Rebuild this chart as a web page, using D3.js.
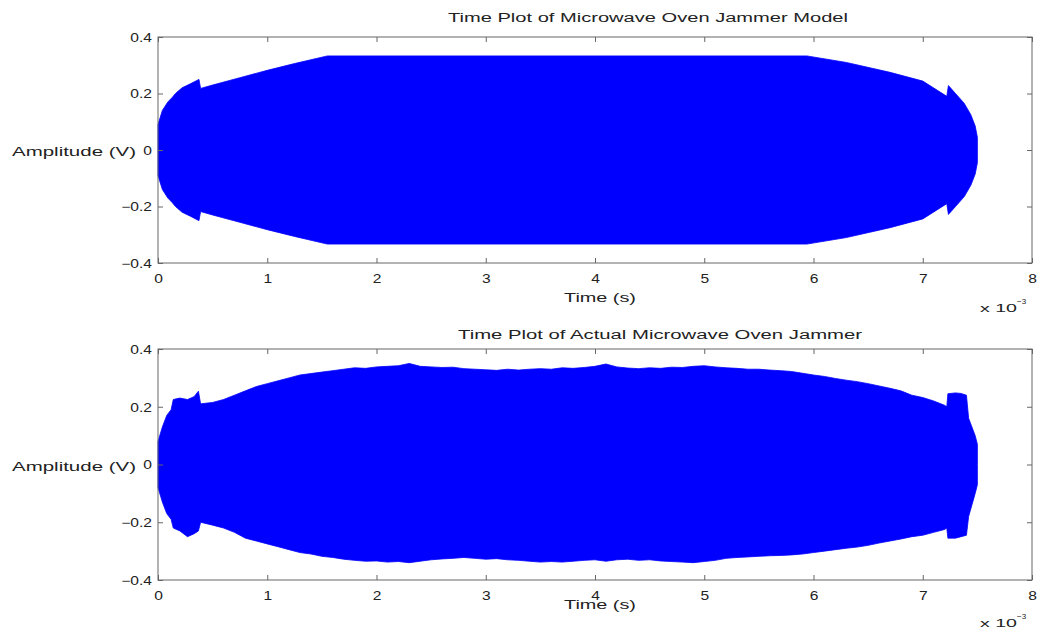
<!DOCTYPE html>
<html>
<head>
<meta charset="utf-8">
<script src="https://cdn.jsdelivr.net/npm/d3@7"></script>
<style>
body { margin: 0; background: #fff; }
text { font-family: "Liberation Sans", Arial, sans-serif; fill: #222; }
</style>
</head>
<body>
<svg id="chart" width="1044" height="639"></svg>
<script>
// tick values and labels
var xTicks = [0, 1, 2, 3, 4, 5, 6, 7, 8];
var yTicks = [-0.4, -0.2, 0, 0.2, 0.4];
var yTickLabels = ["\u22120.4", "\u22120.2", "0", "0.2", "0.4"];

// model jammer: symmetric envelope of the carrier (time in ms, amplitude in V)
var modelTime = [0, 0.04, 0.09, 0.13, 0.16, 0.22, 0.3, 0.375, 0.39, 0.5, 0.75, 1.0, 1.25, 1.55,
    5.94, 6.3, 6.7, 7.0, 7.22, 7.235, 7.3, 7.38, 7.44, 7.48, 7.5, 7.5];
var modelAmp = [0.09, 0.14, 0.17, 0.186, 0.2, 0.22, 0.235, 0.25, 0.218, 0.23, 0.256, 0.282, 0.306, 0.333,
    0.333, 0.31, 0.275, 0.244, 0.19, 0.228, 0.2, 0.165, 0.125, 0.085, 0.045, 0];

// measured jammer: upper and lower envelope
var actualTime = [0, 0.04, 0.08, 0.12, 0.14, 0.2, 0.27, 0.33, 0.37, 0.39,
    0.5, 0.6, 0.7, 0.8, 0.9, 1.0, 1.1, 1.2, 1.3, 1.4, 1.5, 1.6, 1.7, 1.8, 1.9,
    2.0, 2.1, 2.2, 2.3, 2.4, 2.5, 2.6, 2.7, 2.8, 2.9, 3.0, 3.1, 3.2, 3.3, 3.4,
    3.5, 3.6, 3.7, 3.8, 3.9, 4.0, 4.1, 4.2, 4.3, 4.4, 4.5, 4.6, 4.7, 4.8, 4.9,
    5.0, 5.1, 5.2, 5.3, 5.4, 5.5, 5.6, 5.7, 5.8, 5.9, 6.0, 6.1, 6.2, 6.3, 6.4,
    6.5, 6.6, 6.7, 6.8, 6.9, 7.0, 7.1, 7.2,
    7.22, 7.23, 7.3, 7.35, 7.4, 7.42, 7.45, 7.48, 7.5, 7.5];
var actualUpper = [0.08, 0.13, 0.17, 0.19, 0.225, 0.23, 0.225, 0.235, 0.254, 0.21,
    0.215, 0.225, 0.24, 0.255, 0.27, 0.28, 0.29, 0.3, 0.31, 0.315, 0.32, 0.325, 0.33, 0.335, 0.333,
    0.338, 0.34, 0.342, 0.35, 0.34, 0.338, 0.336, 0.337, 0.332, 0.33, 0.328, 0.326, 0.33, 0.327, 0.33,
    0.332, 0.33, 0.335, 0.333, 0.336, 0.34, 0.348, 0.338, 0.334, 0.332, 0.335, 0.333, 0.337, 0.336, 0.34,
    0.342, 0.338, 0.335, 0.333, 0.33, 0.33, 0.327, 0.325, 0.322, 0.316, 0.31, 0.305, 0.298, 0.292, 0.287,
    0.28, 0.272, 0.264, 0.255, 0.24, 0.232, 0.22, 0.205,
    0.2, 0.245, 0.248, 0.246, 0.24, 0.16, 0.13, 0.1, 0.07, 0];
var actualLower = [-0.08, -0.13, -0.17, -0.19, -0.22, -0.23, -0.25, -0.24, -0.23, -0.2,
    -0.21, -0.22, -0.235, -0.255, -0.265, -0.275, -0.285, -0.295, -0.305, -0.31, -0.318, -0.322, -0.328, -0.332, -0.335,
    -0.334, -0.338, -0.336, -0.34, -0.335, -0.33, -0.327, -0.325, -0.322, -0.325, -0.328, -0.326, -0.33, -0.332, -0.335,
    -0.338, -0.336, -0.338, -0.335, -0.332, -0.33, -0.335, -0.33, -0.328, -0.332, -0.33, -0.334, -0.336, -0.338, -0.34,
    -0.336, -0.332, -0.325, -0.322, -0.32, -0.318, -0.316, -0.315, -0.313, -0.31, -0.305, -0.3, -0.295, -0.29, -0.286,
    -0.28, -0.272, -0.265, -0.258, -0.25, -0.245, -0.235, -0.225,
    -0.22, -0.255, -0.255, -0.25, -0.245, -0.18, -0.14, -0.1, -0.07, 0];

var svg = d3.select("#chart");
var left = 158, right = 1032;
var blue = "#0000ff";

var panels = [
    {
        top: 37, bottom: 263,
        title: "Time Plot of Microwave Oven Jammer Model", titleX: 648, titleY: 22, titleW: 400,
        xlabelDy: 39, expDy: 49,
        upper: modelTime.map(function(t, i) { return [t, modelAmp[i]]; }),
        lower: modelTime.map(function(t, i) { return [t, -modelAmp[i]]; })
    },
    {
        top: 349, bottom: 580,
        title: "Time Plot of Actual Microwave Oven Jammer", titleX: 660, titleY: 339, titleW: 404,
        xlabelDy: 29, expDy: 47,
        upper: actualTime.map(function(t, i) { return [t, actualUpper[i]]; }),
        lower: actualTime.map(function(t, i) { return [t, actualLower[i]]; })
    }
];

var sx = 1.3; // the original picture is stretched sideways

panels.forEach(function(p, k) {
    var x = d3.scaleLinear().domain([0, 8]).range([left, right]);
    var y = d3.scaleLinear().domain([-0.4, 0.4]).range([p.bottom, p.top]);
    var g = svg.append("g");

    // signal: filled between upper and lower envelope
    var area = d3.area()
        .x(function(d) { return x(d[0]); })
        .y0(function(d, i) { return y(p.lower[i][1]); })
        .y1(function(d) { return y(d[1]); });
    g.append("path")
        .datum(p.upper)
        .attr("d", area)
        .attr("fill", blue)
        .attr("stroke", blue)
        .attr("stroke-width", 0.8);

    // box
    g.append("rect")
        .attr("x", left).attr("y", p.top)
        .attr("width", right - left).attr("height", p.bottom - p.top)
        .attr("fill", "none").attr("stroke", "#666").attr("stroke-width", 1);

    var xb = g.append("g").attr("transform", "translate(0," + p.bottom + ")")
        .call(d3.axisBottom(x).tickValues(xTicks).tickSize(-5).tickPadding(10).tickFormat(d3.format("d")));
    g.append("g").attr("transform", "translate(0," + p.top + ")")
        .call(d3.axisTop(x).tickValues(xTicks).tickSize(-5).tickFormat(""));
    var yl = g.append("g").attr("transform", "translate(" + left + ",0)")
        .call(d3.axisLeft(y).tickValues(yTicks).tickSize(-5).tickPadding(6)
            .tickFormat(function(d, i) { return yTickLabels[i]; }));
    g.append("g").attr("transform", "translate(" + right + ",0)")
        .call(d3.axisRight(y).tickValues(yTicks).tickSize(-5).tickFormat(""));

    g.selectAll(".domain").remove();
    g.selectAll(".tick line").attr("stroke", "#666");
    g.selectAll(".tick text")
        .attr("font-size", 12)
        .attr("fill", "#222")
        .attr("font-family", "Liberation Sans, Arial, sans-serif")
        .each(function() {
            var t = d3.select(this);
            t.attr("x", (+t.attr("x") || 0) / sx).attr("transform", "scale(" + sx + ",1)");
        });
    xb.selectAll(".tick text").attr("dy", "0.71em").attr("y", 11);
    yl.selectAll(".tick text").attr("dy", "0.36em");

    // title
    g.append("text")
        .attr("x", p.titleX).attr("y", p.titleY)
        .attr("text-anchor", "middle")
        .attr("font-size", 12.5)
        .attr("textLength", p.titleW).attr("lengthAdjust", "spacingAndGlyphs")
        .text(p.title);

    // x label
    g.append("text")
        .attr("x", 600).attr("y", p.bottom + p.xlabelDy)
        .attr("text-anchor", "middle")
        .attr("font-size", 12.5)
        .attr("textLength", 72).attr("lengthAdjust", "spacingAndGlyphs")
        .text("Time (s)");

    // y label, horizontal next to zero tick
    g.append("text")
        .attr("x", 12).attr("y", y(0) + 6)
        .attr("font-size", 13)
        .attr("textLength", 124).attr("lengthAdjust", "spacingAndGlyphs")
        .text("Amplitude (V)");

    // exponent
    var ex = g.append("text")
        .attr("x", 980).attr("y", p.bottom + p.expDy)
        .attr("font-size", 11);
    ex.append("tspan").text("x 10").attr("textLength", 37).attr("lengthAdjust", "spacingAndGlyphs");
    ex.append("tspan").attr("dy", -8).attr("font-size", 8).text("\u22123");
});
</script>
</body>
</html>
